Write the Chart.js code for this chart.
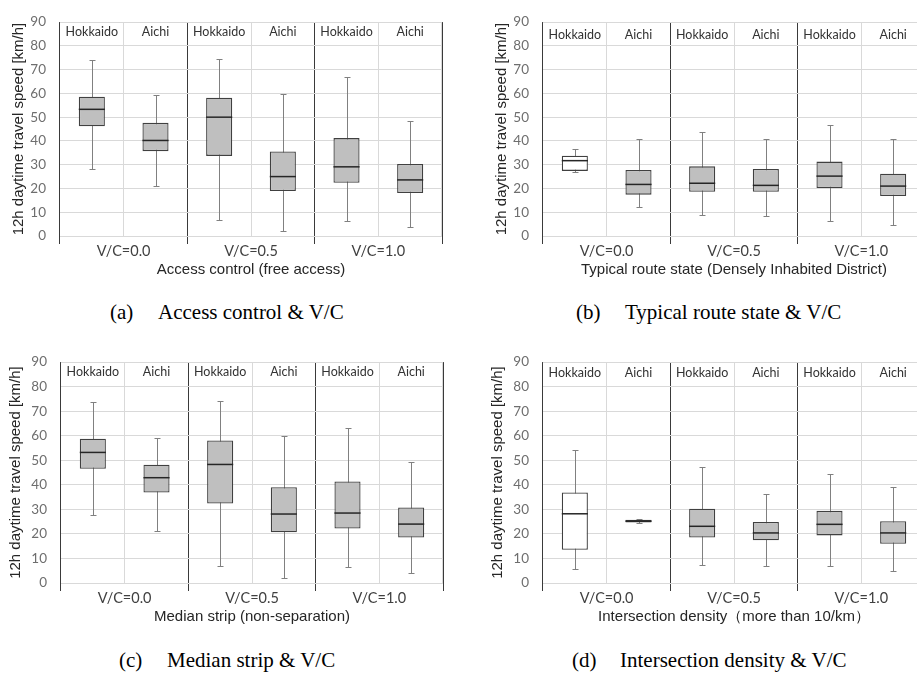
<!DOCTYPE html>
<html>
<head>
<meta charset="utf-8">
<script src="https://cdn.jsdelivr.net/npm/chart.js@4.4.1/dist/chart.umd.min.js"></script>
<style>
  body { margin: 0; width: 917px; height: 679px; overflow: hidden; background: #fff; position: relative; }
  canvas { position: absolute; }
  .cap { position: absolute; font-family: 'Liberation Serif', 'Times New Roman', serif; font-size: 21px; color: #000; white-space: nowrap; line-height: 21px; }
</style>
</head>
<body>
<canvas id="chartA" width="460" height="290" style="left:0;top:0"></canvas>
<canvas id="chartB" width="460" height="290" style="left:483px;top:0"></canvas>
<canvas id="chartC" width="460" height="297" style="left:1px;top:340px"></canvas>
<canvas id="chartD" width="460" height="297" style="left:483px;top:340px"></canvas>

<div class="cap" style="left:110px;top:302px">(a)</div>
<div class="cap" style="left:158px;top:302px">Access control &amp; V/C</div>
<div class="cap" style="left:576px;top:302px">(b)</div>
<div class="cap" style="left:625px;top:302px">Typical route state &amp; V/C</div>
<div class="cap" style="left:119px;top:650px">(c)</div>
<div class="cap" style="left:167px;top:650px">Median strip &amp; V/C</div>
<div class="cap" style="left:572px;top:650px">(d)</div>
<div class="cap" style="left:620px;top:650px">Intersection density &amp; V/C</div>

<script>
// categorias y grupos
const states = ['Hokkaido', 'Aichi', 'Hokkaido', 'Aichi', 'Hokkaido', 'Aichi'];
const vcGroups = ['V/C=0.0', 'V/C=0.5', 'V/C=1.0'];
const yMax = 90;
const yStep = 10;

// (a) Access control (free access)
const accessMin = [28.2, 20.9, 6.9, 2.0, 6.5, 3.8];
const accessQ1  = [46.2, 35.7, 33.7, 18.9, 22.4, 18.1];
const accessMed = [53.3, 40.2, 50.0, 25.0, 29.1, 23.6];
const accessQ3  = [58.6, 47.6, 58.2, 35.6, 41.2, 30.3];
const accessMax = [74.2, 59.4, 74.5, 59.7, 66.7, 48.2];

// (b) Typical route state (DID)
const routeMin = [27.0, 12.2, 8.9, 8.5, 6.5, 4.7];
const routeQ1  = [27.4, 17.4, 18.6, 18.6, 20.2, 16.8];
const routeMed = [31.7, 21.7, 22.2, 21.3, 25.2, 21.0];
const routeQ3  = [33.8, 27.8, 29.3, 28.2, 31.3, 26.2];
const routeMax = [36.6, 40.7, 43.7, 40.7, 46.6, 40.7];

// (c) Median strip (non-separation)
const stripMin = [27.7, 21.0, 7.0, 2.1, 6.6, 4.1];
const stripQ1  = [46.5, 36.9, 32.4, 20.7, 22.2, 18.5];
const stripMed = [53.2, 42.9, 48.3, 28.1, 28.5, 24.0];
const stripQ3  = [58.8, 48.2, 58.1, 39.0, 41.4, 30.8];
const stripMax = [73.9, 59.2, 74.3, 60.0, 63.1, 49.5];

// (d) Intersection density (more than 10/km)
const interMin = [5.8, 24.4, 7.3, 6.9, 6.9, 5.0];
const interQ1  = [13.5, 24.7, 18.5, 17.4, 19.4, 16.0];
const interMed = [28.2, 25.2, 23.1, 20.4, 23.9, 20.4];
const interQ3  = [36.9, 25.8, 30.3, 24.9, 29.4, 25.2];
const interMax = [54.0, 25.9, 47.4, 36.3, 44.6, 39.3];

// bigotes, medianas y etiquetas de arriba
const boxPlugin = {
    id: 'boxStats',
    beforeDatasetsDraw(chart, args, opts) {
        const { ctx, scales: { x, y } } = chart;
        ctx.save();
        ctx.strokeStyle = '#808080';
        ctx.lineWidth = 1;
        opts.min.forEach((lo, i) => {
            const cx = Math.round(x.getPixelForValue(i)) + 0.5;
            const yLo = Math.round(y.getPixelForValue(lo)) + 0.5;
            const yHi = Math.round(y.getPixelForValue(opts.max[i])) + 0.5;
            ctx.beginPath();
            ctx.moveTo(cx, yLo); ctx.lineTo(cx, yHi);
            ctx.moveTo(cx - 3, yLo); ctx.lineTo(cx + 3, yLo);
            ctx.moveTo(cx - 3, yHi); ctx.lineTo(cx + 3, yHi);
            ctx.stroke();
        });
        ctx.restore();
    },
    afterDatasetsDraw(chart, args, opts) {
        const { ctx, scales: { y } } = chart;
        const meta = chart.getDatasetMeta(0);
        ctx.save();
        ctx.strokeStyle = '#262626';
        ctx.lineWidth = 1.5;
        meta.data.forEach((bar, i) => {
            const yy = y.getPixelForValue(opts.med[i]);
            ctx.beginPath();
            ctx.moveTo(bar.x - bar.width / 2, yy);
            ctx.lineTo(bar.x + bar.width / 2, yy);
            ctx.stroke();
        });
        ctx.restore();
    },
    afterDraw(chart, args, opts) {
        const { ctx, chartArea, scales: { x } } = chart;
        ctx.save();
        ctx.font = '12.5px Lato, sans-serif';
        ctx.fillStyle = '#333333';
        ctx.textAlign = 'center';
        ctx.textBaseline = 'middle';
        chart.data.labels.forEach((lab, i) => {
            ctx.fillText(lab, x.getPixelForValue(i), chartArea.top + opts.labelOffset);
        });
        ctx.restore();
    }
};

function makePanel(id, p) {
    const fills = states.map((s, i) => p.white.includes(i) ? '#ffffff' : '#bfbfbf');
    return new Chart(document.getElementById(id), {
        type: 'bar',
        data: {
            labels: states,
            datasets: [{
                data: p.q1.map((v, i) => [v, p.q3[i]]),
                backgroundColor: fills,
                borderColor: '#404040',
                borderWidth: 1.3,
                borderSkipped: false,
                barPercentage: 0.41,
                categoryPercentage: 1
            }]
        },
        plugins: [boxPlugin],
        options: {
            responsive: false,
            animation: false,
            layout: { padding: { top: p.top, right: 18, bottom: 0, left: 0 } },
            plugins: {
                legend: { display: false },
                tooltip: { enabled: false },
                boxStats: { min: p.min, med: p.med, max: p.max, labelOffset: p.labelOffset }
            },
            scales: {
                x: {
                    position: 'bottom',
                    grid: { color: '#d9d9d9', offset: true, drawTicks: false },
                    border: { display: false },
                    ticks: { display: false },
                    afterFit: s => { s.height = 0; }
                },
                x2: {
                    type: 'category',
                    labels: vcGroups,
                    position: 'bottom',
                    offset: true,
                    z: 1,
                    grid: { color: '#3a3a3a', offset: true, tickLength: 8, lineWidth: 1 },
                    border: { display: false },
                    ticks: { color: '#404040', padding: 0, font: { family: 'Lato', size: 14.5, lineHeight: 1 } },
                    title: {
                        display: true,
                        text: p.title,
                        color: '#262626',
                        font: { family: 'Liberation Sans', size: 15 },
                        padding: { top: 0, bottom: 11 }
                    },
                    afterFit: s => { s.height = 54; }
                },
                y: {
                    min: 0,
                    max: yMax,
                    ticks: { stepSize: yStep, color: '#6e6e6e', padding: 14, font: { family: 'Lato', size: 13.5 } },
                    grid: { color: '#d9d9d9', drawTicks: false },
                    border: { display: false },
                    title: {
                        display: true,
                        text: '12h daytime travel speed [km/h]',
                        color: '#262626',
                        font: { family: 'Liberation Sans', size: 15 },
                        padding: { top: p.yTitlePad, bottom: 0 }
                    },
                    afterFit: s => { s.width = 60; }
                }
            }
        }
    });
}

makePanel('chartA', { top: 9, labelOffset: 10, yTitlePad: 10, white: [],
    min: accessMin, q1: accessQ1, med: accessMed, q3: accessQ3, max: accessMax,
    title: 'Access control (free access)' });
makePanel('chartB', { top: 11, labelOffset: 13, yTitlePad: 10, white: [0],
    min: routeMin, q1: routeQ1, med: routeMed, q3: routeQ3, max: routeMax,
    title: 'Typical route state (Densely Inhabited District)' });
makePanel('chartC', { top: 17, labelOffset: 10, yTitlePad: 6, white: [],
    min: stripMin, q1: stripQ1, med: stripMed, q3: stripQ3, max: stripMax,
    title: 'Median strip (non-separation)' });
makePanel('chartD', { top: 16, labelOffset: 11, yTitlePad: 6, white: [0],
    min: interMin, q1: interQ1, med: interMed, q3: interQ3, max: interMax,
    title: 'Intersection density（more than 10/km）' });
</script>
</body>
</html>
